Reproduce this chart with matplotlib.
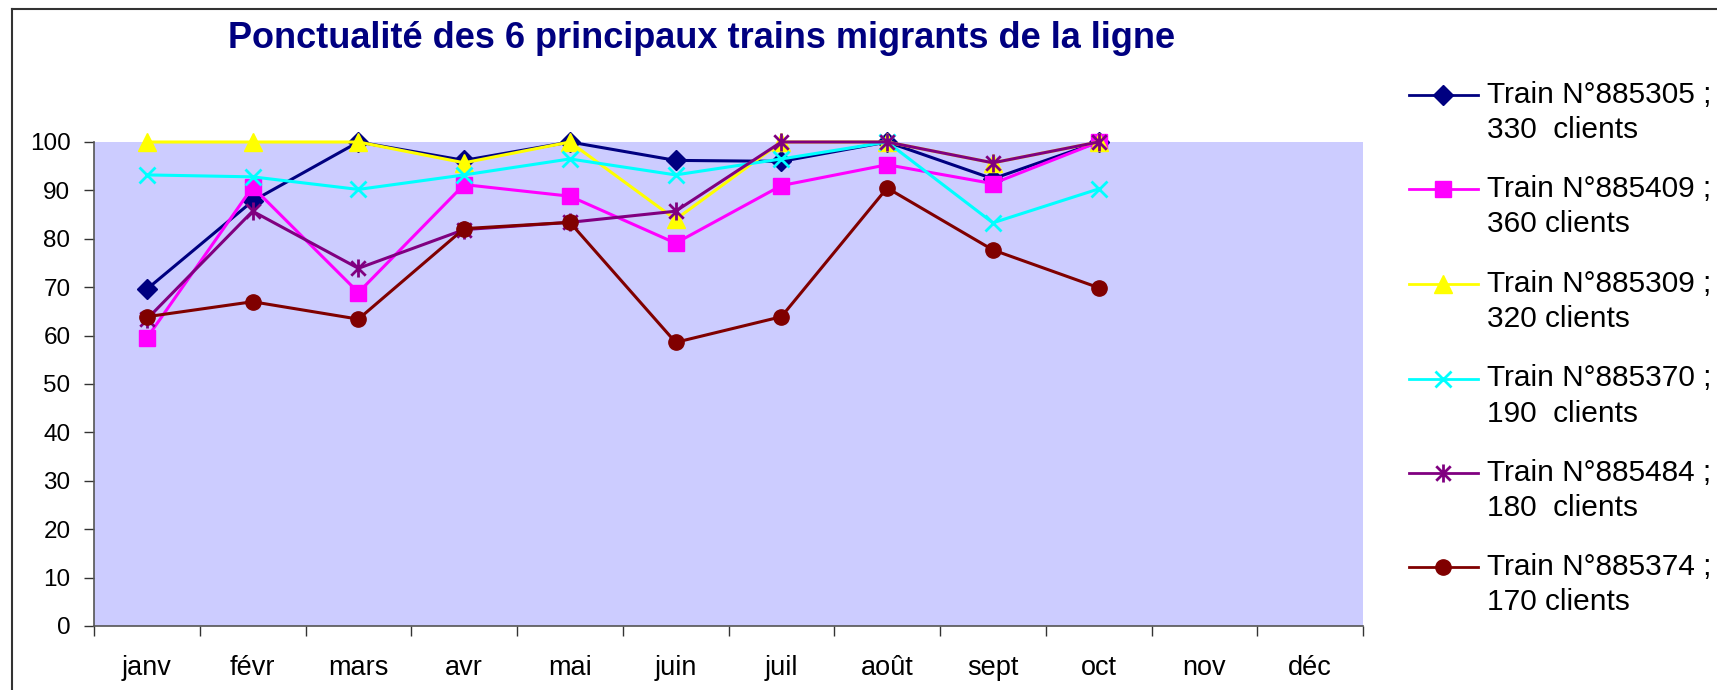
import numpy as np
import matplotlib
matplotlib.use("Agg")
import matplotlib.pyplot as plt
from matplotlib.lines import Line2D
from matplotlib.path import Path

plt.rcParams['font.family'] = ['Liberation Sans', 'DejaVu Sans']

# ---------------- data ----------------
months = ['janv', 'févr', 'mars', 'avr', 'mai', 'juin', 'juil', 'août', 'sept', 'oct', 'nov', 'déc']
t885305 = [69.6, 87.8, 100, 96.2, 100, 96.2, 96.0, 100, 92.4, 100]
t885409 = [59.5, 90.7, 68.9, 91.2, 88.8, 79.1, 91.0, 95.3, 91.4, 100]
t885309 = [100, 100, 100, 95.7, 100, 84.0, 100, 100, 95.7, 100]
t885370 = [93.2, 92.8, 90.2, 93.2, 96.5, 93.2, 96.5, 100, 83.3, 90.3]
t885484 = [63.4, 85.7, 73.9, 81.9, 83.4, 85.7, 100, 100, 95.7, 100]
t885374 = [63.9, 67.0, 63.4, 82.1, 83.4, 58.6, 63.9, 90.5, 77.7, 69.9]
labels = ['Train N°885305 ;\n330  clients', 'Train N°885409 ;\n360 clients',
          'Train N°885309 ;\n320 clients', 'Train N°885370 ;\n190  clients',
          'Train N°885484 ;\n180  clients', 'Train N°885374 ;\n170 clients']
y_ticks = list(range(0, 101, 10))
title = 'Ponctualité des 6 principaux trains migrants de la ligne'

# ---------------- styles ----------------
star = Path([(-1, -1), (1, 1), (-1, 1), (1, -1), (0, -1.25), (0, 1.25)],
            [Path.MOVETO, Path.LINETO, Path.MOVETO, Path.LINETO, Path.MOVETO, Path.LINETO])
styles = [
    dict(color='#000080', marker='D', ms=10, mfc='#000080', mec='#000080', mew=1),
    dict(color='#FF00FF', marker='s', ms=11, mfc='#FF00FF', mec='#FF00FF', mew=1),
    dict(color='#FFFF00', marker='^', ms=13, mfc='#FFFF00', mec='#FFFF00', mew=1),
    dict(color='#00FFFF', marker='x', ms=12, mfc='#00FFFF', mec='#00FFFF', mew=2),
    dict(color='#800080', marker=star, ms=13, mfc='#800080', mec='#800080', mew=2),
    dict(color='#800000', marker='o', ms=11, mfc='#800000', mec='#800000', mew=1),
]
series = [t885305, t885409, t885309, t885370, t885484, t885374]

W, H = 1717, 690
fig = plt.figure(figsize=(W / 100, H / 100), dpi=100)
ax = fig.add_axes([94 / W, 1 - 626 / H, (1363 - 94) / W, (626 - 142) / H])
ax.set_facecolor('#CCCCFF')

for vals, st in zip(series, styles):
    x = np.arange(len(vals))
    ax.plot(x, vals, lw=2.2, clip_on=False, zorder=3, **st)

ax.set_xlim(-0.5, len(months) - 0.5)
ax.set_ylim(0, 100)
ax.set_yticks(y_ticks)
ax.set_yticklabels([str(v) for v in y_ticks], fontsize=17.5)
ax.set_xticks(np.arange(len(months)))
ax.set_xticklabels(months, fontsize=19.5)
ax.set_xticks(np.arange(len(months) + 1) - 0.5, minor=True)
ax.tick_params(axis='x', which='major', length=0, pad=21)
ax.tick_params(axis='x', which='minor', length=7, width=1, color='#333333', direction='out')
ax.tick_params(axis='y', length=7, width=1, color='#333333', pad=10, direction='out')
for s in ['top', 'right']:
    ax.spines[s].set_visible(False)
for s in ['left', 'bottom']:
    ax.spines[s].set_color('#555555')
    ax.spines[s].set_linewidth(1.2)

fig.text(702 / W, 1 - 38 / H, title, fontsize=26, fontweight='bold', color='#000080',
         ha='center', va='center')

# manual legend
ycs = [95, 189.5, 284, 378.5, 473, 567]
for lab, st, yc in zip(labels, styles, ycs):
    yf = 1 - yc / H
    fig.add_artist(Line2D([1409 / W, 1478 / W], [yf, yf], transform=fig.transFigure,
                          color=st['color'], lw=2))
    mst = {k: v for k, v in st.items() if k != 'color'}
    fig.add_artist(Line2D([1443 / W], [yf], transform=fig.transFigure, ls='none', **mst))
    l1, l2 = lab.split('\n')
    fig.text(1487 / W, yf, l1, fontsize=21.5, va='center', ha='left')
    fig.text(1487 / W, 1 - (yc + 35) / H, l2, fontsize=21.5, va='center', ha='left')

# chart frame
fig.add_artist(Line2D([12 / W, 12 / W], [0, 1 - 9 / H], transform=fig.transFigure, color='#333333', lw=1.5))
fig.add_artist(Line2D([12 / W, 1], [1 - 9 / H, 1 - 9 / H], transform=fig.transFigure, color='#333333', lw=1.5))

fig.savefig('out.png', dpi=100)
